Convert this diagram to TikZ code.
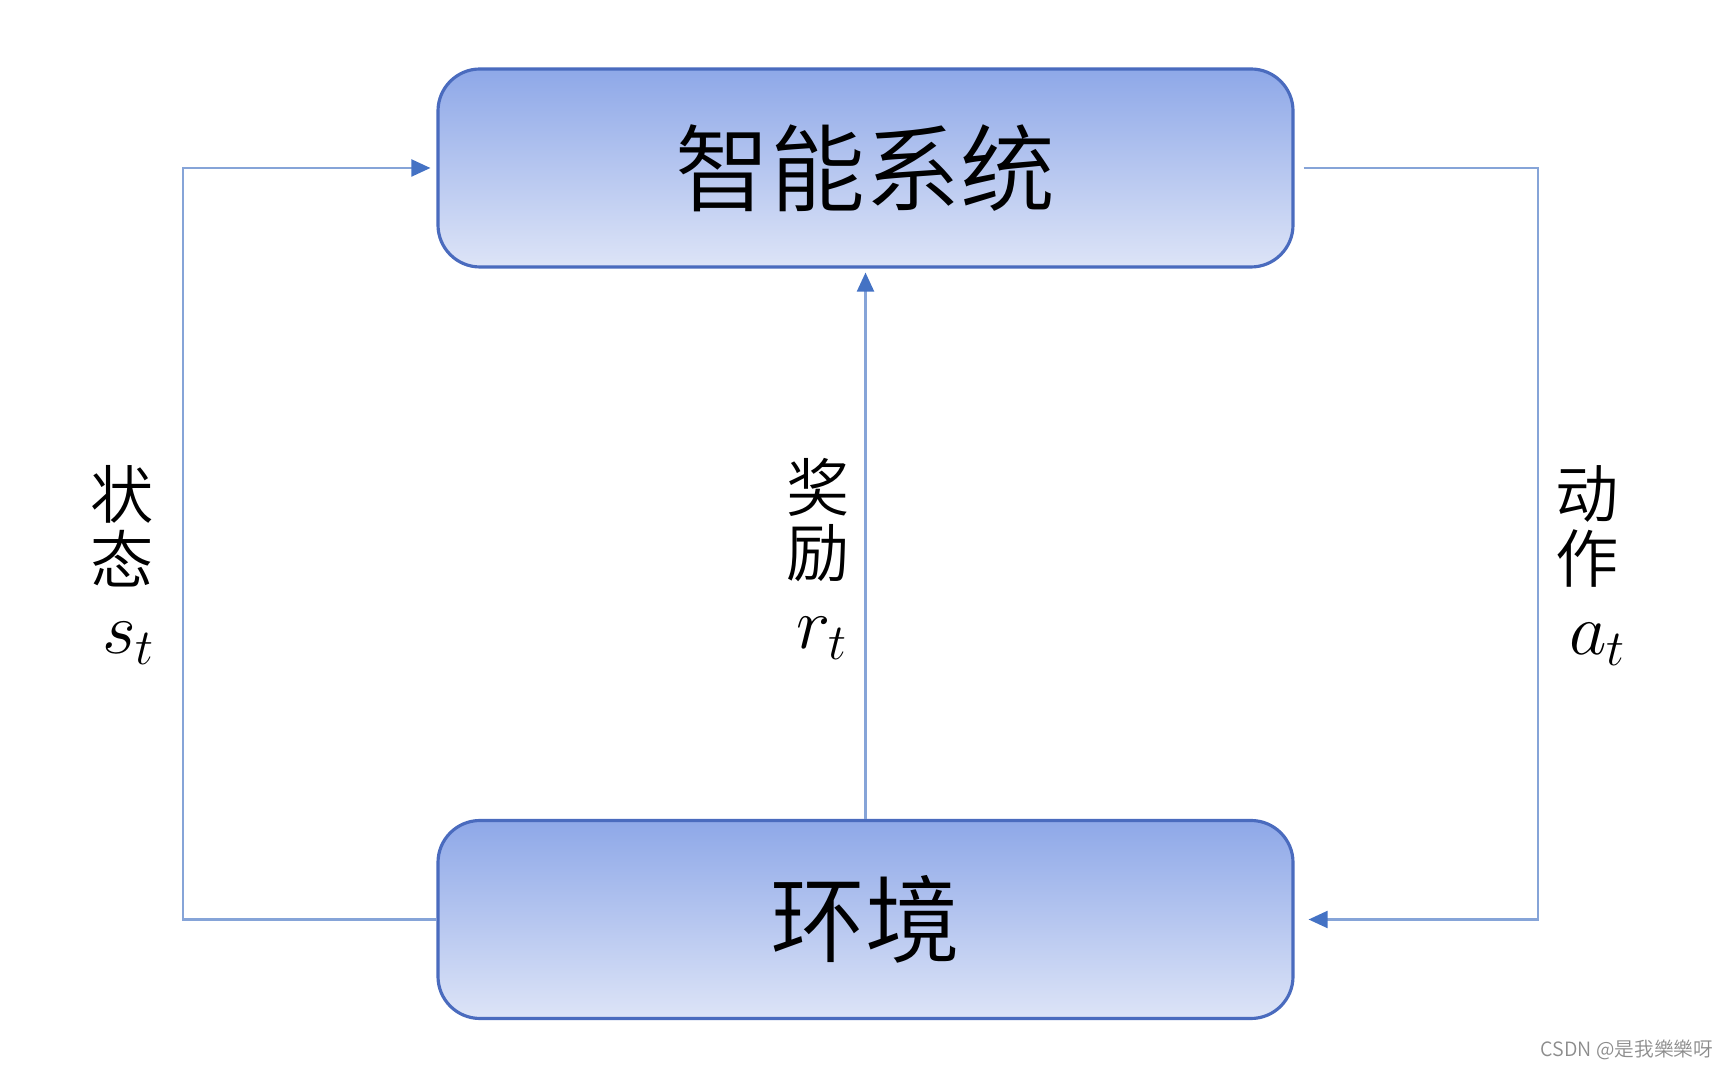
\documentclass[tikz,border=0pt]{standalone}
\usepackage{fontspec}
\newfontfamily\cjk[UprightFont=* DemiLight]{Noto Sans CJK SC}
\usetikzlibrary{arrows.meta}
\definecolor{boxtop}{HTML}{8EA8E8}
\definecolor{boxbot}{HTML}{DDE4F7}
\definecolor{boxline}{HTML}{4A6BBE}
\definecolor{linkline}{HTML}{86A4D8}
\definecolor{tipblue}{HTML}{4472C4}
\begin{document}
\begin{tikzpicture}[
    block/.style={draw=boxline,line width=0.9pt,rounded corners=0.42cm,top color=boxtop,bottom color=boxbot,minimum width=8.55cm,minimum height=1.98cm,inner sep=0pt},
    link/.style={draw=linkline,line width=0.6pt},
    tip/.style={-{Triangle[length=0.19cm,width=0.17cm,color=tipblue]}},
    lbl/.style={font=\cjk\fontsize{18}{18.5}\selectfont,align=center,inner sep=0pt},
    sym/.style={font=\fontsize{22}{24}\selectfont,inner sep=0pt}]
    \useasboundingbox (0,0) rectangle (17.29,10.71);
    \node[block,font=\cjk\fontsize{27}{30}\selectfont] (agent) at (8.655,9.03) {智能系统};
    \node[block,font=\cjk\fontsize{27}{30}\selectfont] (env) at (8.655,1.515) {环境};
    \coordinate (sl) at (1.83,1.515);
    \coordinate (ar) at (15.38,9.03);
    \draw[link,tip,shorten >=0.06cm] (env.west) -- (sl) |- (agent.west);
    \draw[link,tip,shorten >=0.04cm] (env.north) -- (agent.south);
    \draw[link,tip,shorten <=0.09cm,shorten >=0.14cm] (agent.east) -- (ar) |- (env.east);
    \node[lbl] (state) at (1.22,5.45) {状\\态};
    \node[sym] (st) at (1.29,4.28) {$s_t$};
    \node[lbl] (reward) at (8.18,5.51) {奖\\励};
    \node[sym] (rt) at (8.22,4.33) {$r_t$};
    \node[lbl] (action) at (15.87,5.45) {动\\作};
    \node[sym] (at) at (15.98,4.27) {$a_t$};
    \node[font=\cjk\fontsize{5.6}{6}\selectfont,text=black!45,inner sep=0pt] (mark) at (16.27,0.21) {CSDN @是我樂樂呀};
\end{tikzpicture}
\end{document}
